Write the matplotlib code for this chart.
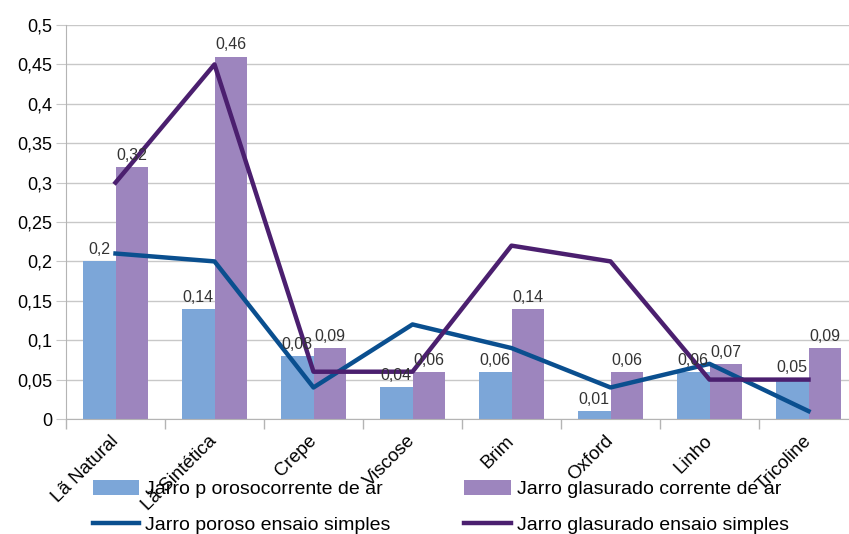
import matplotlib.pyplot as plt
from matplotlib.ticker import MultipleLocator, FuncFormatter
import numpy as np

plt.rcParams['font.family'] = ['Liberation Sans', 'DejaVu Sans']

categories = ['Lã Natural', 'Lã Sintética', 'Crepe', 'Viscose', 'Brim',
              'Oxford', 'Linho', 'Tricoline']
poroso_ar = [0.20, 0.14, 0.08, 0.04, 0.06, 0.01, 0.06, 0.05]
glasurado_ar = [0.32, 0.46, 0.09, 0.06, 0.14, 0.06, 0.07, 0.09]
poroso_simples = [0.21, 0.20, 0.04, 0.12, 0.09, 0.04, 0.07, 0.01]
glasurado_simples = [0.30, 0.45, 0.06, 0.06, 0.22, 0.20, 0.05, 0.05]

labels = ['Jarro p orosocorrente de ar', 'Jarro glasurado corrente de ar',
          'Jarro poroso ensaio simples', 'Jarro glasurado ensaio simples']

c_bar1 = '#7ca6d8'
c_bar2 = '#9d85be'
c_line1 = '#0a4f8f'
c_line2 = '#4b1f6f'

def fmt(v):
    return ('%g' % v).replace('.', ',')

fig = plt.figure(figsize=(8.49, 5.34), dpi=100)
ax = fig.add_axes([66 / 849, 115 / 534, 792 / 849, 394 / 534])

x = np.arange(len(categories))
w = 0.33
b1 = ax.bar(x - w / 2, poroso_ar, w, color=c_bar1, zorder=2)
b2 = ax.bar(x + w / 2, glasurado_ar, w, color=c_bar2, zorder=2)
l1, = ax.plot(x, poroso_simples, color=c_line1, lw=3.2, zorder=3)
l2, = ax.plot(x, glasurado_simples, color=c_line2, lw=3.2, zorder=3)

for bars, vals in ((b1, poroso_ar), (b2, glasurado_ar)):
    for b, v in zip(bars, vals):
        ax.annotate(fmt(v), (b.get_x() + b.get_width() / 2, v),
                    xytext=(0, 3), textcoords='offset points',
                    ha='center', va='bottom', fontsize=11.5, color='#333333',
                    zorder=4)

ax.set_xlim(-0.5, len(categories) - 0.5)
ax.set_ylim(0, 0.5)
ax.yaxis.set_major_locator(MultipleLocator(0.05))
ax.yaxis.set_major_formatter(FuncFormatter(lambda v, p: fmt(round(v, 2))))
ax.grid(axis='y', color='#c8c8c8', lw=1, zorder=0)
ax.set_axisbelow(True)

ax.set_xticks(x)
ax.set_xticks(np.arange(len(categories) + 1) - 0.5, minor=True)
ax.set_xticklabels(categories, rotation=45, ha='right', va='center',
                   rotation_mode='anchor', fontsize=13.5)
ax.tick_params(axis='x', which='major', length=0, pad=14)
ax.tick_params(axis='x', which='minor', length=7, color='#b4b4b4', width=1)
ax.tick_params(axis='y', length=7, color='#c8c8c8', labelsize=13, pad=3)

for s in ('top', 'right'):
    ax.spines[s].set_visible(False)
for s in ('left', 'bottom'):
    ax.spines[s].set_color('#b4b4b4')

# column-wise fill: put bars in row 1, lines in row 2
fig.legend([b1, l1, b2, l2], [labels[0], labels[2], labels[1], labels[3]],
           ncol=2, frameon=False,
           loc='upper left', bbox_to_anchor=(83 / 849, 1 - 470 / 534),
           fontsize=14, handlelength=2.4, handleheight=0.8, handletextpad=0.3,
           columnspacing=3.8, labelspacing=0.9, borderpad=0)

fig.savefig('out.png', dpi=100)
